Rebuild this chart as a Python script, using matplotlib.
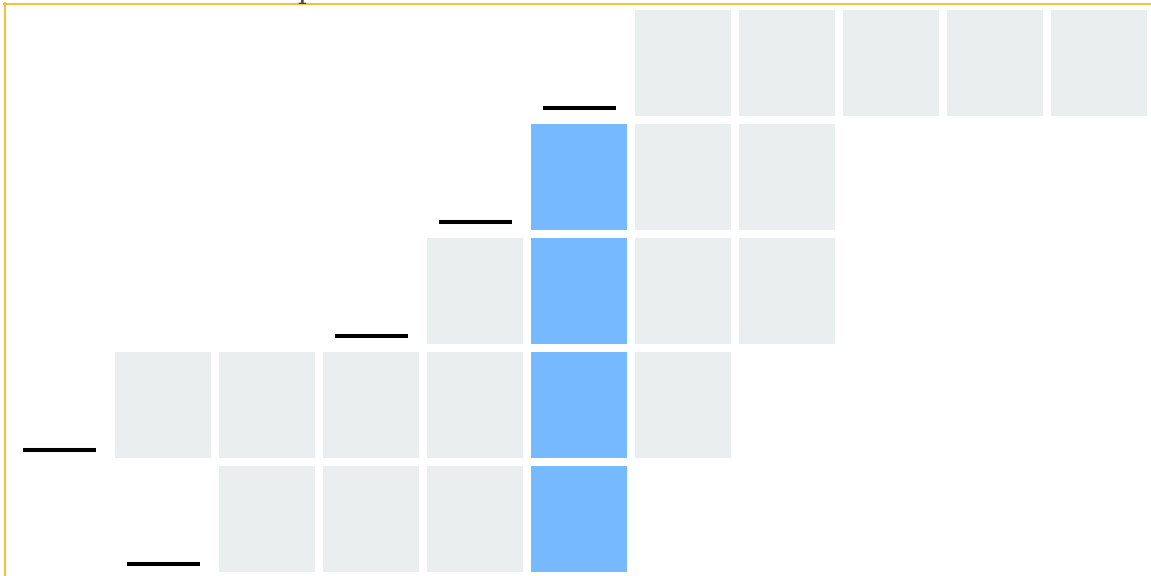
import matplotlib.pyplot as plt
from matplotlib.patches import Rectangle
from matplotlib.lines import Line2D

# ступенчатая сетка: у каждой строки своё смещение и длина
row_start = [5, 4, 3, 0, 1]
row_len = [5, 3, 4, 6, 4]
dash_col = [4, 3, 2, -1, 0]
key_col = 4

gray = '#ebeeef'
blue = '#77b9ff'

fig = plt.figure(figsize=(11.51, 5.76), dpi=100)
ax = fig.add_axes([0, 0, 1, 1])
ax.set_xlim(-115 / 104, (1151 - 115) / 104)
ax.set_ylim((576 - 10) / 114, -10 / 114)
ax.axis('off')

cw = 96 / 104
ch = 106 / 114

for r in range(len(row_start)):
    for c in range(row_start[r], row_start[r] + row_len[r]):
        color = blue if c == key_col else gray
        ax.add_patch(Rectangle((c, r), cw, ch, facecolor=color, edgecolor='none'))
    ax.hlines(r + 98 / 114, dash_col[r] + 12 / 104, dash_col[r] + 85 / 104,
              color='black', linewidth=2.9)

# жёлтая рамка и обрезанный заголовок сверху
fig.add_artist(Line2D([4.5 / 1151, 4.5 / 1151], [0, 1 - 3 / 576],
                      color='#f2c037', linewidth=1.4, transform=fig.transFigure))
fig.add_artist(Line2D([4 / 1151, 1], [1 - 3.5 / 576, 1 - 3.5 / 576],
                      color='#f2c037', linewidth=1.4, transform=fig.transFigure))
fig.text(297 / 1151, 1 + 2 / 576, 'p', family='DejaVu Serif', fontsize=20,
         color='#34495e', va='baseline')

fig.savefig('out.png', dpi=100)
